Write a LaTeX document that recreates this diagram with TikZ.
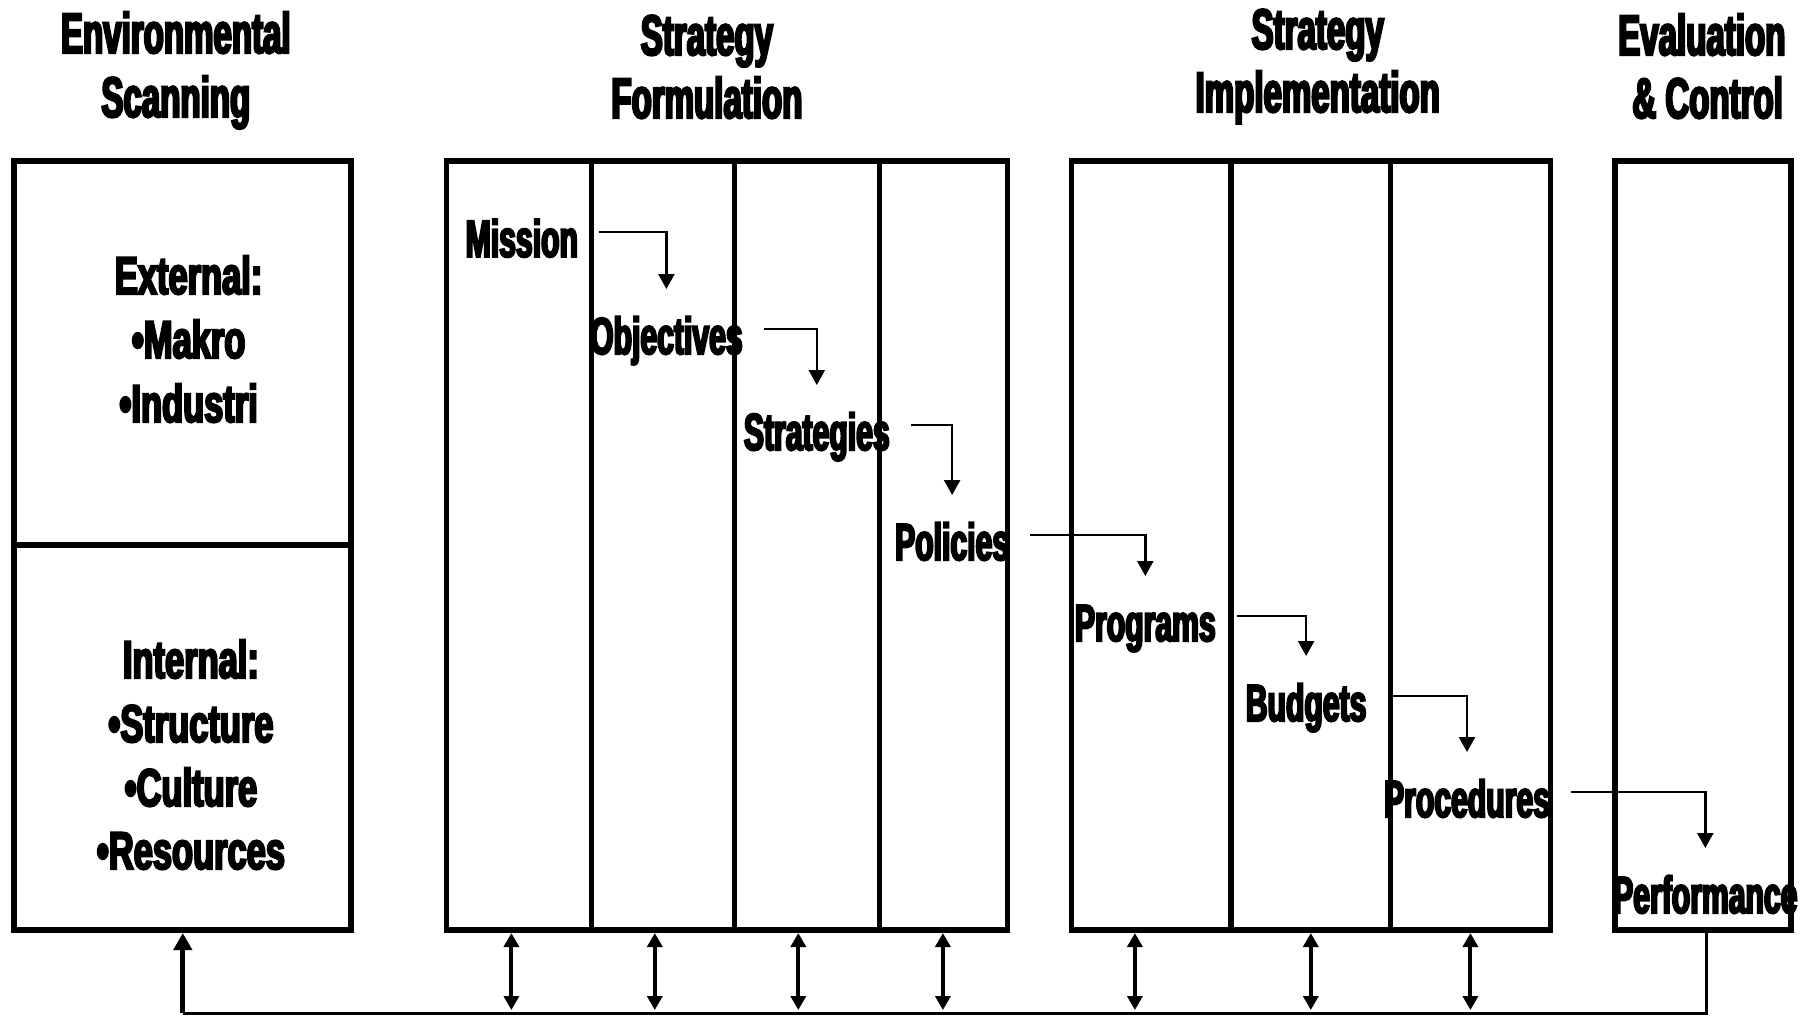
\documentclass[tikz,border=0pt]{standalone}
\usepackage{fontspec}
\newfontfamily\hfont{Liberation Sans Bold}[FakeStretch=0.58,FakeBold=4]
\newfontfamily\ifont{Liberation Sans Bold}[FakeStretch=0.65,FakeBold=4]
\usetikzlibrary{arrows.meta}
\begin{document}
\begin{tikzpicture}[x=1pt,y=-1pt,
  box/.style={draw,line width=5.3pt},
  head/.style={font=\hfont\fontsize{57}{64}\selectfont, inner sep=0pt, anchor=base},
  lab/.style={font=\hfont\fontsize{52}{60}\selectfont, inner sep=0pt, anchor=base},
  item/.style={font=\ifont\fontsize{53}{64}\selectfont, inner sep=0pt, anchor=base},
  flow/.style={line width=2.5pt, -{Triangle[length=15pt,width=16pt]}},
  dbl/.style={line width=4pt, {Triangle[length=14pt,width=15pt]}-{Triangle[length=14pt,width=15pt]}},
  upar/.style={line width=5pt, -{Triangle[length=17pt,width=18pt]}},
  bus/.style={line width=3.3pt},
]
\useasboundingbox (0,0) rectangle (1814,1015);

% headers
\node[head] (h1a) at (175.8,53) {Environmental};
\node[head] (h1b) at (175.8,117) {Scanning};
\node[head] (h2a) at (706.9,55) {Strategy};
\node[head] (h2b) at (706.9,118) {Formulation};
\node[head] (h3a) at (1317.7,49) {Strategy};
\node[head] (h3b) at (1317.7,112) {Implementation};
\node[head] (h4a) at (1701.8,55) {Evaluation};
\node[head] (h4b) at (1707.6,118) {\& Control};

% boxes
\draw[box] (14,161) rectangle (351,930);
\draw[box] (14,545) -- (351,545);
\draw[box] (446.6,161) rectangle (1007.7,930);
\draw[box] (591.2,161) -- (591.2,930);
\draw[box] (734.6,161) -- (734.6,930);
\draw[box] (879.2,161) -- (879.2,930);
\draw[box] (1071.3,161) rectangle (1550.2,930);
\draw[box] (1231,161) -- (1231,930);
\draw[box] (1390.6,161) -- (1390.6,930);
\draw[box] (1615,161) rectangle (1791,930);

% environmental items
\node[item] (ext) at (188.6,294) {External:};
\node[item] (mak) at (188.6,358) {•Makro};
\node[item] (ind) at (188.6,422) {•Industri};
\node[item] (int) at (190.9,678) {Internal:};
\node[item] (str) at (190.9,742) {•Structure};
\node[item] (cul) at (190.9,806) {•Culture};
\node[item] (res) at (190.9,869) {•Resources};

% flow labels
\node[lab] (mis) at (521.8,256.8) {Mission};
\node[lab] (obj) at (666.4,354) {Objectives};
\node[lab] (stg) at (816.8,450) {Strategies};
\node[lab] (pol) at (952.1,560) {Policies};
\node[lab] (prg) at (1145.3,641) {Programs};
\node[lab] (bud) at (1306.1,721) {Budgets};
\node[lab] (pro) at (1467,817) {Procedures};
\node[lab] (per) at (1705.3,913) {Performance};

\foreach \a/\b in {mis/obj,obj/stg,stg/pol,pol/prg,prg/bud,bud/pro,pro/per}
  \draw[flow] ([xshift=21pt,yshift=25pt]\a.base east) -| ([yshift=65pt]\b.base);

% bottom bus
\coordinate (busL) at (182.8,1013.2);
\coordinate (busR) at (1706.4,1013.2);
\coordinate (envB) at (182.8,933);
\coordinate (evalB) at (1706.4,930);
\draw[bus] (evalB) -- (busR) -- (busL);
\draw[upar] (busL) -- (envB);
\foreach \x [count=\i] in {511.4,654.8,798.3,942.9,1134.9,1310.8,1470.4} {
  \coordinate (t\i) at (\x,933);
  \coordinate (u\i) at (\x,1010);
  \draw[dbl] (t\i) -- (u\i);
}
\end{tikzpicture}
\end{document}
